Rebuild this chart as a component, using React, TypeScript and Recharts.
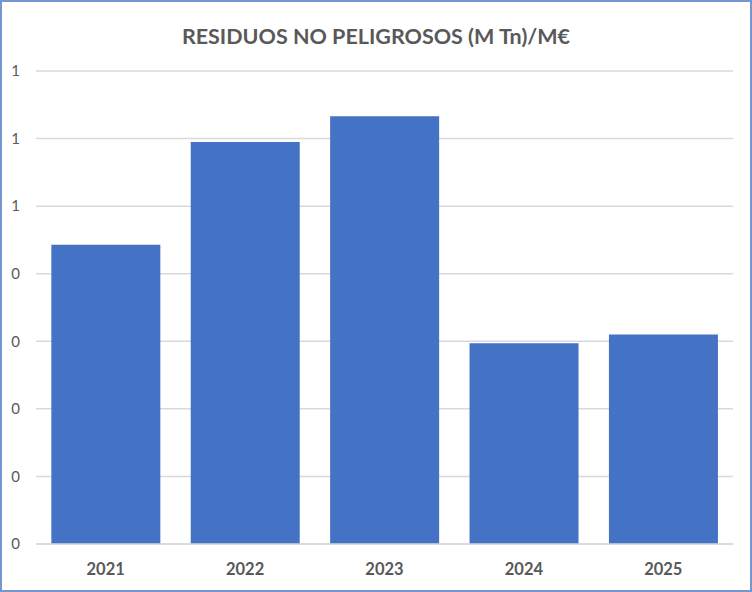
import React from "react";
import { BarChart, Bar, XAxis, YAxis, CartesianGrid } from "recharts";

const years = ["2021", "2022", "2023", "2024", "2025"];
const values = [0.443, 0.595, 0.633, 0.297, 0.31];
const yTicks = [0, 0.1, 0.2, 0.3, 0.4, 0.5, 0.6, 0.7];
const title = "RESIDUOS NO PELIGROSOS (M Tn)/M€";

const data = years.map((y, i) => ({ year: y, value: values[i] }));

export default function App() {
  return (
    <div
      style={{
        position: "absolute",
        left: 0,
        top: 0,
        width: 752,
        height: 592,
        background: "#fff",
        fontFamily: "Lato, 'Open Sans', sans-serif",
      }}
    >
      <div
        style={{
          position: "absolute",
          left: 0,
          top: 0,
          width: 748,
          height: 588,
          border: "2px solid #7696D2",
        }}
      />
      <div
        style={{
          position: "absolute",
          left: 0,
          top: 21,
          width: 752,
          textAlign: "center",
          fontSize: 21.5,
          fontWeight: 700,
          color: "#595959",
          lineHeight: "30px",
        }}
      >
        {title}
      </div>
      <BarChart
        width={752}
        height={592}
        data={data}
        margin={{ top: 71, right: 19, bottom: 0, left: 0 }}
        barCategoryGap="11%"
      >
        <CartesianGrid vertical={false} stroke="#D9D9D9" strokeWidth={1.5} />
        <XAxis
          dataKey="year"
          axisLine={{ stroke: "#D9D9D9", strokeWidth: 1.5 }}
          tickLine={false}
          tickSize={0}
          tickMargin={19}
          height={48}
          tick={{ fill: "#595959", fontSize: 16.5, fontWeight: 700, fontFamily: "Lato, sans-serif" }}
        />
        <YAxis
          domain={[0, 0.7]}
          ticks={yTicks}
          width={36}
          axisLine={false}
          tickLine={false}
          tickSize={0}
          tickMargin={16}
          interval={0}
          tickFormatter={(v: number) => String(Math.round(v + 1e-9))}
          tick={{ fill: "#595959", fontSize: 15, fontFamily: "Lato, sans-serif" }}
        />
        <Bar dataKey="value" fill="#4472C4" isAnimationActive={false} />
      </BarChart>
    </div>
  );
}
